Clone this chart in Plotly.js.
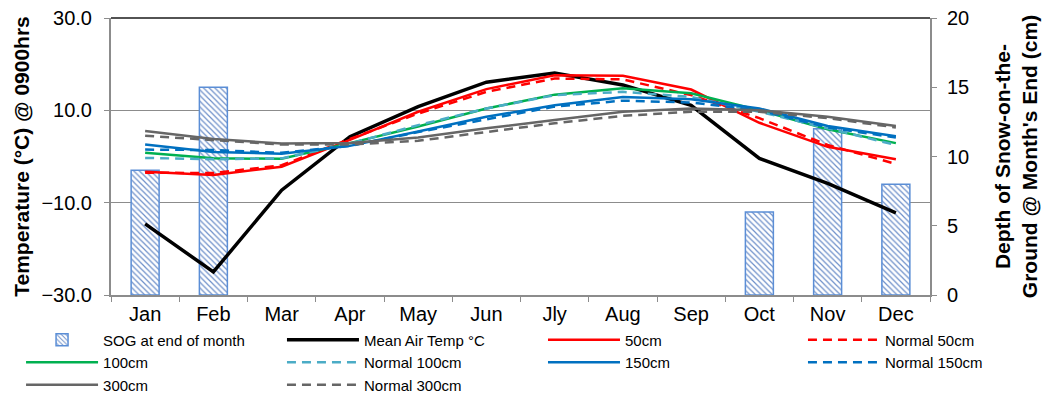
<!DOCTYPE html>
<html><head><meta charset="utf-8">
<script src="https://cdn.plot.ly/plotly-3.0.1.min.js"></script>
<style>body{margin:0;background:#fff}#chart{width:1042px;height:396px}</style>
</head><body><div id="chart"></div>
<script>
const months = ["Jan","Feb","Mar","Apr","May","Jun","Jly","Aug","Sep","Oct","Nov","Dec"];
const sog = [9, 15, 0, 0, 0, 0, 0, 0, 0, 6, 12, 8];
const meanAir = [-14.6, -25.0, -7.3, 4.3, 10.8, 16.1, 18.1, 15.5, 11.1, -0.4, -5.8, -12.2];
const t50 = [-3.3, -4.0, -2.2, 3.6, 9.7, 14.6, 17.6, 17.5, 14.5, 7.3, 2.1, -0.6];
const n50 = [-3.5, -3.6, -1.9, 3.8, 9.3, 14.0, 16.9, 16.7, 13.3, 8.3, 2.5, -1.6];
const t100 = [0.8, -0.4, -0.5, 2.9, 6.5, 10.4, 13.4, 14.8, 13.7, 10.0, 5.9, 2.9];
const n100 = [-0.3, -0.6, -0.4, 2.8, 6.8, 10.4, 13.3, 14.0, 12.9, 9.7, 6.1, 2.5];
const t150 = [2.6, 1.0, 0.6, 2.3, 5.4, 8.6, 11.1, 12.9, 12.4, 10.4, 6.6, 4.4];
const n150 = [1.5, 1.4, 0.8, 2.3, 5.3, 8.1, 10.8, 12.1, 11.7, 10.0, 6.3, 4.1];
const t300 = [5.5, 3.8, 2.8, 2.9, 4.1, 6.1, 7.9, 9.7, 10.4, 10.0, 8.6, 6.6];
const n300 = [4.5, 3.6, 2.6, 2.6, 3.4, 5.3, 7.2, 8.8, 9.7, 9.7, 8.3, 6.3];

function ln(name, y, color, dash, width, leg) {
  return {type:'scatter', mode:'lines', name:name, x:months, y:y, yaxis:'y2', legend:leg,
    line:{color:color, width:width||2.5, dash:dash||'solid'}};
}
const dsh = '9px,6px';
const traces = [
  {type:'bar', name:'SOG at end of month', x:months, y:sog, yaxis:'y', width:0.41, legend:'legend',
   marker:{color:'#ffffff', line:{color:'#5b8ed6', width:sog.map(v => v > 0 ? 1.5 : 0)},
     pattern:{shape:'\\', fgcolor:'#6d8fc9', bgcolor:'#ffffff', size:4, solidity:0.3}}},
  ln('Mean Air Temp °C', meanAir, '#000000', 'solid', 3.5, 'legend2'),
  ln('50cm', t50, '#ff0000', 'solid', 2.5, 'legend3'),
  ln('Normal 50cm', n50, '#ff0000', dsh, 2.5, 'legend4'),
  ln('100cm', t100, '#00b050', 'solid', 2.5, 'legend'),
  ln('Normal 100cm', n100, '#4bacc6', dsh, 2.5, 'legend2'),
  ln('150cm', t150, '#0070c0', 'solid', 2.5, 'legend3'),
  ln('Normal 150cm', n150, '#0070c0', dsh, 2.5, 'legend4'),
  ln('300cm', t300, '#666666', 'solid', 2.5, 'legend'),
  ln('Normal 300cm', n300, '#666666', dsh, 2.5, 'legend2')
];
const ff = 'Liberation Sans, Arial, sans-serif';
function leg(x) {
  return {orientation:'h', xref:'container', yref:'container', x:x, xanchor:'left', y:0.183, yanchor:'top',
    entrywidth:430, entrywidthmode:'pixels',
    itemwidth:72, tracegroupgap:0, traceorder:'normal',
    font:{size:15, family:ff, color:'#000'}, bgcolor:'rgba(0,0,0,0)'};
}
const layout = {
  width:1042, height:396,
  margin:{l:111, r:112, t:18, b:101},
  paper_bgcolor:'#fff', plot_bgcolor:'#fff',
  font:{family:ff, color:'#000'},
  showlegend:true,
  xaxis:{type:'category', showline:true, linecolor:'#8c8c8c', linewidth:2,
    ticks:'outside', tickson:'boundaries', ticklen:5, tickcolor:'#8c8c8c',
    tickfont:{size:20, family:ff, color:'#000'}, showgrid:false, fixedrange:true},
  yaxis:{side:'right', range:[0,20], dtick:5, tick0:0, showgrid:false, zeroline:false,
    showline:true, linecolor:'#8c8c8c', linewidth:2, ticks:'outside', ticklen:5, tickcolor:'#8c8c8c',
    ticklabelstandoff:6,
    tickfont:{size:20, family:ff, color:'#000'},
    title:{text:"Depth of Snow-on-the-<br>Ground @ Month's End (cm)", standoff:27,
      font:{size:21, family:ff, color:'#000', weight:'bold'}}},
  yaxis2:{side:'left', overlaying:'y', range:[-30,30], dtick:20, tick0:-30, tickformat:'.1f',
    showgrid:true, gridcolor:'#8c8c8c', gridwidth:1, zeroline:false,
    showline:true, linecolor:'#8c8c8c', linewidth:2, ticks:'outside', ticklen:5, tickcolor:'#8c8c8c',
    ticklabelstandoff:8,
    tickfont:{size:20, family:ff, color:'#000'},
    title:{text:'Temperature (°C) @ 0900hrs', standoff:6,
      font:{size:21, family:ff, color:'#000', weight:'bold'}}},
  legend:leg(0.0202), legend2:leg(0.2706), legend3:leg(0.5211), legend4:leg(0.7706),
  shapes:[{type:'line', xref:'paper', yref:'paper', x0:0, x1:1, y0:1, y1:1,
    line:{color:'#1a1a1a', width:1.5}}]
};
Plotly.newPlot('chart', traces, layout, {displayModeBar:false, staticPlot:true});
</script></body></html>
